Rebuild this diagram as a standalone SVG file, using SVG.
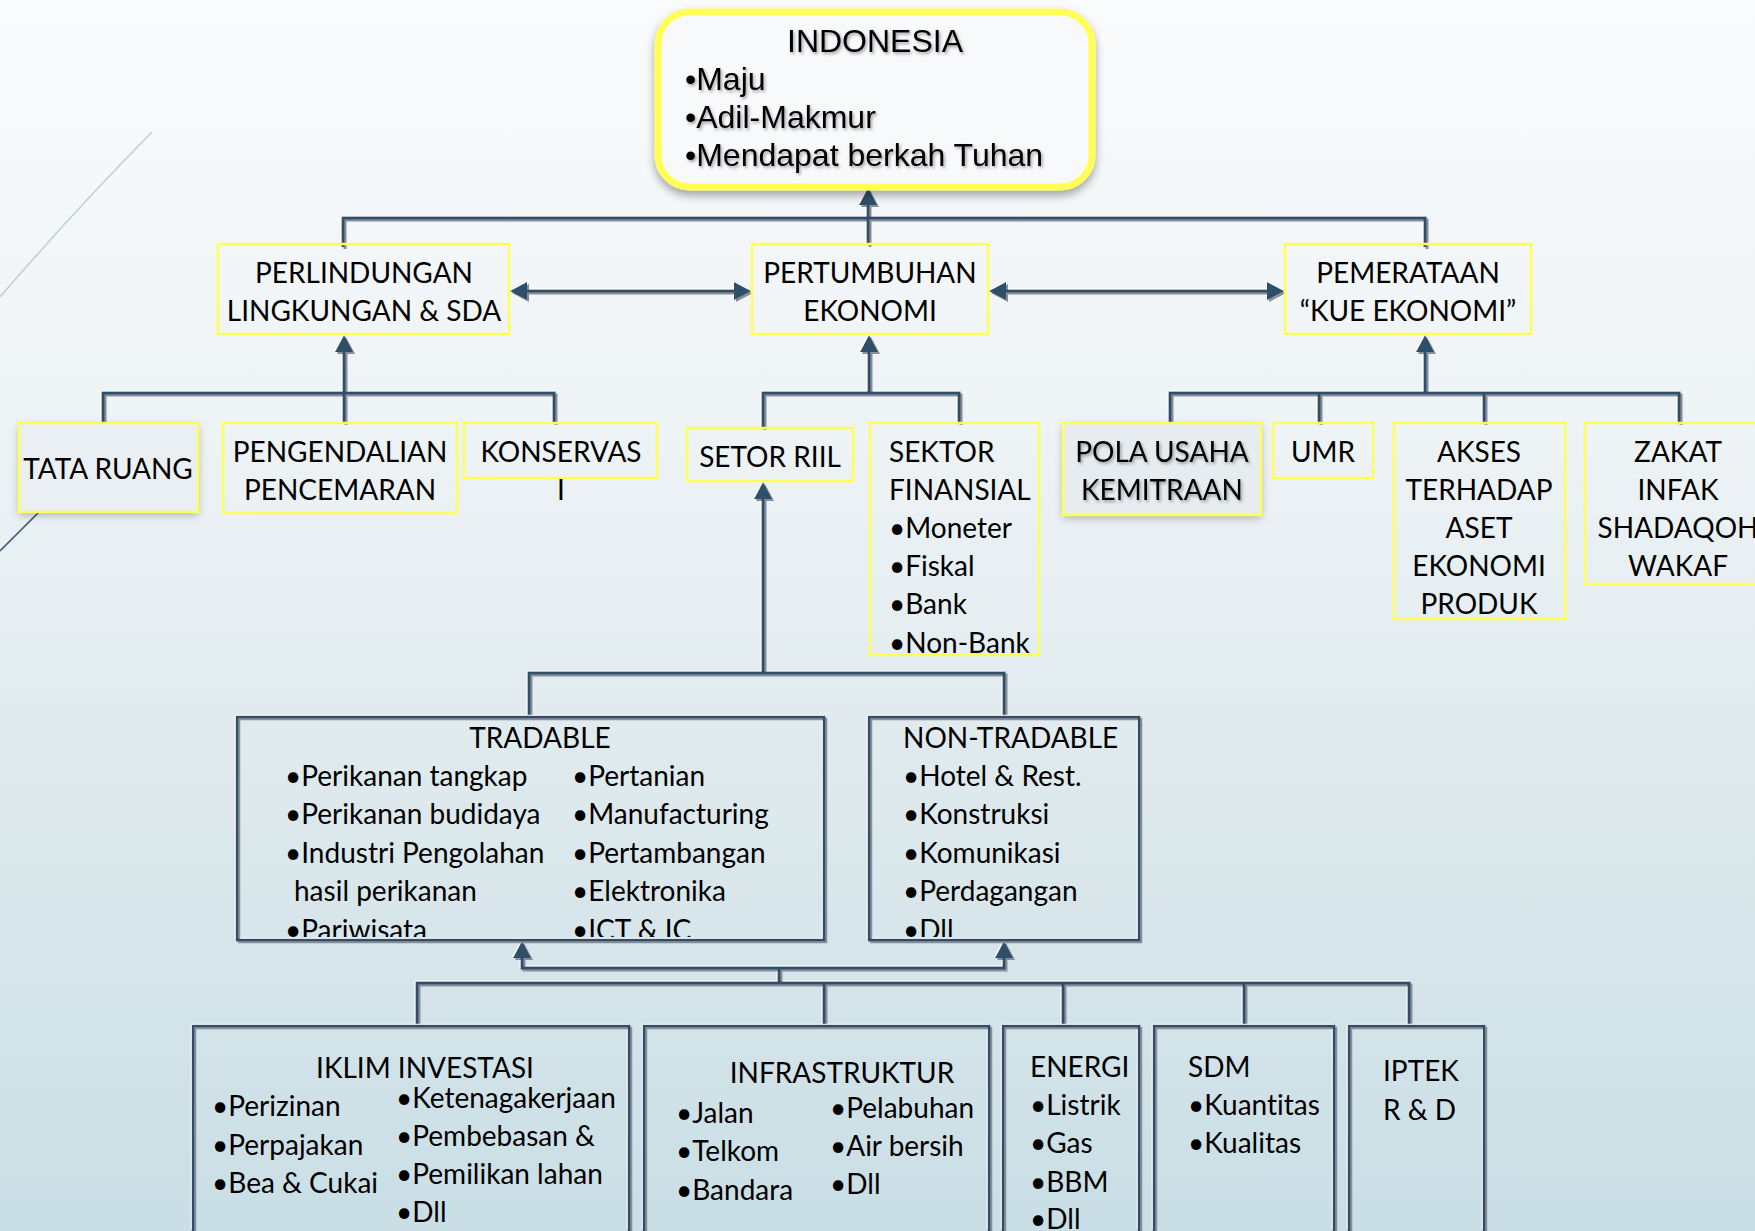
<svg xmlns="http://www.w3.org/2000/svg" width="1755" height="1231" viewBox="0 0 1755 1231">
  <defs>
    <linearGradient id="bg" x1="0" y1="0" x2="0" y2="1">
      <stop offset="0" stop-color="#FAFBFC"/>
      <stop offset="0.35" stop-color="#EEF3F5"/>
      <stop offset="0.65" stop-color="#DDE9ED"/>
      <stop offset="1" stop-color="#C9DEE5"/>
    </linearGradient>
    <!-- embossed line look: white edge up-left, grey edge down-right -->
    <filter id="bevel" filterUnits="userSpaceOnUse" x="0" y="0" width="1755" height="1231">
      <feFlood flood-color="#FFFFFF" flood-opacity="0.9"/>
      <feComposite in2="SourceAlpha" operator="in"/>
      <feOffset dx="-1.5" dy="-1.5" result="hi"/>
      <feFlood flood-color="#8A8E9A"/>
      <feComposite in2="SourceAlpha" operator="in"/>
      <feOffset dx="1.8" dy="1.8" result="sh"/>
      <feMerge>
        <feMergeNode in="hi"/>
        <feMergeNode in="sh"/>
        <feMergeNode in="SourceGraphic"/>
      </feMerge>
    </filter>
    <filter id="boxShadow" x="-20%" y="-20%" width="140%" height="140%">
      <feDropShadow dx="0" dy="3" stdDeviation="4" flood-color="#000" flood-opacity="0.28"/>
    </filter>
    <filter id="textShadow" x="-5%" y="-20%" width="110%" height="140%">
      <feDropShadow dx="1.5" dy="2" stdDeviation="1.8" flood-color="#000" flood-opacity="0.35"/>
    </filter>
    <filter id="goalGlow" x="-10%" y="-15%" width="120%" height="135%">
      <feGaussianBlur in="SourceAlpha" stdDeviation="5"/>
      <feOffset dx="0" dy="5"/>
      <feComponentTransfer><feFuncA type="linear" slope="0.35"/></feComponentTransfer>
      <feMerge>
        <feMergeNode/>
        <feMergeNode in="SourceGraphic"/>
      </feMerge>
    </filter>
    <clipPath id="clipTrad"><rect x="237" y="717" width="590" height="220"/></clipPath>
    <clipPath id="clipNon"><rect x="869" y="717" width="272" height="220"/></clipPath>
  </defs>
  <style>
    .t { font-family: Lato, "Open Sans", sans-serif; font-size: 28px; fill: #000; font-variant-ligatures: none; }
    .c { text-anchor: middle; }
    .ttl { font-family: "Liberation Sans", Arial, sans-serif; font-size: 32px; fill: #000; }
    .ybox { fill: none; stroke: #FFFF55; stroke-width: 2.5; }
    .frame { fill: none; stroke: #2E5069; stroke-width: 2.5; }
    .wire path { fill: none; stroke: #2E5069; stroke-width: 3; }
    .wire polygon { fill: #2E5069; }
  </style>

  <!-- backdrop -->
  <rect width="1755" height="1231" fill="url(#bg)"/>
  <path d="M0 297 Q75 210 152 132" fill="none" stroke="#C5CDD3" stroke-width="1.6"/>
  <path d="M0 551 L53 498" fill="none" stroke="#3D5E77" stroke-width="1.6"/>

  <!-- connectors -->
  <g id="connectors" class="wire" filter="url(#bevel)">
    <!-- level 1 to goal -->
    <path d="M343 247 V218 H1425 V247"/>
    <path d="M868 245 V202"/>
    <polygon points="868,188 859,205 877,205"/>
    <!-- horizontal double arrows -->
    <path d="M524 291 H737"/>
    <polygon points="510,291 527,282 527,300"/>
    <polygon points="751,291 734,282 734,300"/>
    <path d="M1003 291 H1270"/>
    <polygon points="989,291 1006,282 1006,300"/>
    <polygon points="1284,291 1267,282 1267,300"/>
    <!-- level 2 left -->
    <path d="M103 423 V393 H554 V423"/>
    <path d="M344 423 V349"/>
    <polygon points="344,335 335,352 353,352"/>
    <!-- level 2 middle -->
    <path d="M763 428 V393 H959 V423"/>
    <path d="M869 393 V349"/>
    <polygon points="869,335 860,352 878,352"/>
    <!-- level 2 right -->
    <path d="M1170 423 V393 H1679 V423"/>
    <path d="M1319 393 V423"/>
    <path d="M1484 393 V423"/>
    <path d="M1425 393 V349"/>
    <polygon points="1425,335 1416,352 1434,352"/>
    <!-- sector level -->
    <path d="M763 673 V496"/>
    <polygon points="763,482 754,499 772,499"/>
    <path d="M529 717 V673 H1004 V717"/>
    <!-- foundations -->
    <path d="M522 955 V968 H1004 V955"/>
    <polygon points="522,941 513,958 531,958"/>
    <polygon points="1004,941 995,958 1013,958"/>
    <path d="M779 968 V983"/>
    <path d="M417 1026 V983 H1409 V1026"/>
    <path d="M824 983 V1026"/>
    <path d="M1063 983 V1026"/>
    <path d="M1244 983 V1026"/>
  </g>

  <!-- goal -->
  <g id="indonesia">
    <rect x="658" y="12" width="434" height="175" rx="32" fill="#F8F9FB" stroke="#FFFF55" stroke-width="7" filter="url(#goalGlow)"/>
    <g class="ttl" filter="url(#textShadow)">
      <text x="875" y="52" text-anchor="middle">INDONESIA</text>
      <text x="685" y="90">•Maju</text>
      <text x="685" y="128">•Adil-Makmur</text>
      <text x="685" y="166">•Mendapat berkah Tuhan</text>
    </g>
  </g>

  <!-- level 1 -->
  <g id="perlindungan">
    <rect class="ybox" x="218" y="244" width="291" height="90"/>
    <text class="t c" x="364" y="283">PERLINDUNGAN</text>
    <text class="t c" x="364" y="321">LINGKUNGAN &amp; SDA</text>
  </g>
  <g id="pertumbuhan">
    <rect class="ybox" x="752" y="244" width="236" height="90"/>
    <text class="t c" x="870" y="283">PERTUMBUHAN</text>
    <text class="t c" x="870" y="321">EKONOMI</text>
  </g>
  <g id="pemerataan">
    <rect class="ybox" x="1285" y="244" width="246" height="90"/>
    <text class="t c" x="1408" y="283">PEMERATAAN</text>
    <text class="t c" x="1408" y="321">“KUE EKONOMI”</text>
  </g>

  <!-- level 2 -->
  <g id="tata-ruang">
    <rect x="19" y="423" width="179" height="89" fill="#E9EFF2" filter="url(#boxShadow)"/>
    <rect class="ybox" x="19" y="423" width="179" height="89"/>
    <text class="t c" x="108" y="479">TATA RUANG</text>
  </g>
  <g id="pengendalian">
    <rect class="ybox" x="223" y="423" width="234" height="90"/>
    <text class="t c" x="340" y="462">PENGENDALIAN</text>
    <text class="t c" x="340" y="500">PENCEMARAN</text>
  </g>
  <g id="konservasi">
    <rect class="ybox" x="464" y="423" width="193" height="55"/>
    <text class="t c" x="561" y="462">KONSERVAS</text>
    <text class="t c" x="561" y="500">I</text>
  </g>
  <g id="setor-riil">
    <rect class="ybox" x="687" y="428" width="166" height="53"/>
    <text class="t c" x="770" y="467">SETOR RIIL</text>
  </g>
  <g id="sektor-finansial">
    <rect class="ybox" x="870" y="423" width="169" height="232"/>
    <text class="t" x="889" y="462">SEKTOR</text>
    <text class="t" x="889" y="500">FINANSIAL</text>
    <text class="t" x="889" y="538">•Moneter</text>
    <text class="t" x="889" y="576">•Fiskal</text>
    <text class="t" x="889" y="614">•Bank</text>
    <text class="t" x="889" y="653">•Non-Bank</text>
  </g>
  <g id="pola-usaha">
    <rect x="1063" y="423" width="198" height="92" fill="#E6ECEF" filter="url(#boxShadow)"/>
    <rect class="ybox" x="1063" y="423" width="198" height="92"/>
    <g filter="url(#textShadow)">
      <text class="t c" x="1162" y="462">POLA USAHA</text>
      <text class="t c" x="1162" y="500">KEMITRAAN</text>
    </g>
  </g>
  <g id="umr">
    <rect class="ybox" x="1273" y="423" width="100" height="55"/>
    <text class="t c" x="1323" y="462">UMR</text>
  </g>
  <g id="akses">
    <rect class="ybox" x="1394" y="423" width="171" height="196"/>
    <text class="t c" x="1479" y="462">AKSES</text>
    <text class="t c" x="1479" y="500">TERHADAP</text>
    <text class="t c" x="1479" y="538">ASET</text>
    <text class="t c" x="1479" y="576">EKONOMI</text>
    <text class="t c" x="1479" y="614">PRODUK</text>
  </g>
  <g id="zakat">
    <rect class="ybox" x="1585" y="423" width="190" height="161"/>
    <text class="t c" x="1678" y="462">ZAKAT</text>
    <text class="t c" x="1678" y="500">INFAK</text>
    <text class="t c" x="1678" y="538">SHADAQOH</text>
    <text class="t c" x="1678" y="576">WAKAF</text>
  </g>

  <!-- level 3 -->
  <g id="tradable">
    <g clip-path="url(#clipTrad)">
      <text class="t c" x="540" y="748">TRADABLE</text>
      <text class="t" x="285" y="786">•Perikanan tangkap</text>
      <text class="t" x="285" y="824">•Perikanan budidaya</text>
      <text class="t" x="285" y="863">•Industri Pengolahan</text>
      <text class="t" x="294" y="901">hasil perikanan</text>
      <text class="t" x="285" y="940">•Pariwisata</text>
      <text class="t" x="572" y="786">•Pertanian</text>
      <text class="t" x="572" y="824">•Manufacturing</text>
      <text class="t" x="572" y="863">•Pertambangan</text>
      <text class="t" x="572" y="901">•Elektronika</text>
      <text class="t" x="572" y="940">•ICT &amp; IC</text>
    </g>
    <rect class="frame" x="237" y="717" width="587" height="223" filter="url(#bevel)"/>
  </g>
  <g id="non-tradable">
    <g clip-path="url(#clipNon)">
      <text class="t" x="903" y="748">NON-TRADABLE</text>
      <text class="t" x="903" y="786">•Hotel &amp; Rest.</text>
      <text class="t" x="903" y="824">•Konstruksi</text>
      <text class="t" x="903" y="863">•Komunikasi</text>
      <text class="t" x="903" y="901">•Perdagangan</text>
      <text class="t" x="903" y="940">•Dll</text>
    </g>
    <rect class="frame" x="869" y="717" width="270" height="223" filter="url(#bevel)"/>
  </g>

  <!-- level 4 -->
  <g id="iklim-investasi">
    <rect class="frame" x="193" y="1026" width="436" height="230" filter="url(#bevel)"/>
    <text class="t c" x="425" y="1078">IKLIM INVESTASI</text>
    <text class="t" x="212" y="1116">•Perizinan</text>
    <text class="t" x="212" y="1155">•Perpajakan</text>
    <text class="t" x="212" y="1193">•Bea &amp; Cukai</text>
    <text class="t" x="396" y="1108">•Ketenagakerjaan</text>
    <text class="t" x="396" y="1146">•Pembebasan &amp;</text>
    <text class="t" x="396" y="1184">•Pemilikan lahan</text>
    <text class="t" x="396" y="1222">•Dll</text>
  </g>
  <g id="infrastruktur">
    <rect class="frame" x="644" y="1026" width="345" height="230" filter="url(#bevel)"/>
    <text class="t c" x="842" y="1083">INFRASTRUKTUR</text>
    <text class="t" x="676" y="1123">•Jalan</text>
    <text class="t" x="676" y="1161">•Telkom</text>
    <text class="t" x="676" y="1200">•Bandara</text>
    <text class="t" x="830" y="1118">•Pelabuhan</text>
    <text class="t" x="830" y="1156">•Air bersih</text>
    <text class="t" x="830" y="1194">•Dll</text>
  </g>
  <g id="energi">
    <rect class="frame" x="1003" y="1026" width="136" height="230" filter="url(#bevel)"/>
    <text class="t" x="1030" y="1077">ENERGI</text>
    <text class="t" x="1030" y="1115">•Listrik</text>
    <text class="t" x="1030" y="1153">•Gas</text>
    <text class="t" x="1030" y="1192">•BBM</text>
    <text class="t" x="1030" y="1229">•Dll</text>
  </g>
  <g id="sdm">
    <rect class="frame" x="1154" y="1026" width="180" height="230" filter="url(#bevel)"/>
    <text class="t" x="1188" y="1077">SDM</text>
    <text class="t" x="1188" y="1115">•Kuantitas</text>
    <text class="t" x="1188" y="1153">•Kualitas</text>
  </g>
  <g id="iptek">
    <rect class="frame" x="1349" y="1026" width="135" height="230" filter="url(#bevel)"/>
    <text class="t" x="1383" y="1081">IPTEK</text>
    <text class="t" x="1383" y="1120">R &amp; D</text>
  </g>
</svg>
